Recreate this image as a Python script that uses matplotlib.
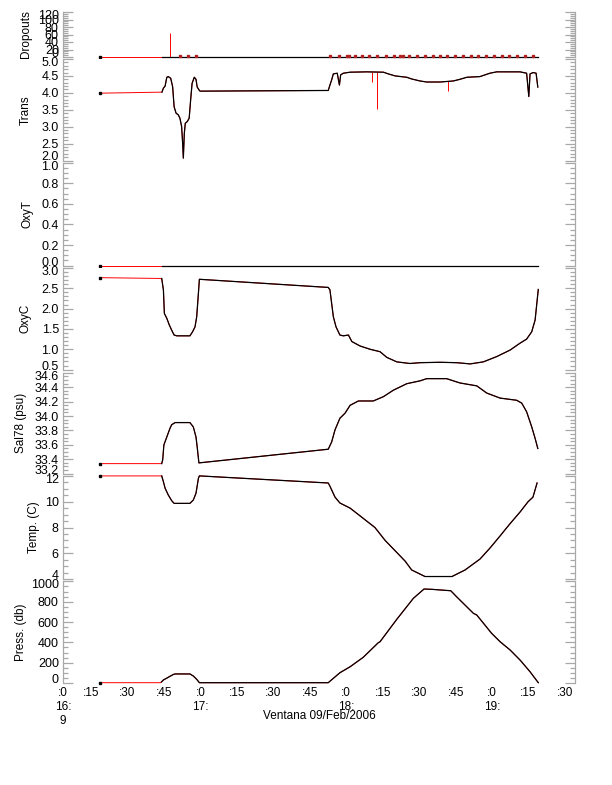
import numpy as np
import matplotlib
matplotlib.use("Agg")
import matplotlib.pyplot as plt
from matplotlib.ticker import FixedLocator, MultipleLocator
from matplotlib.transforms import ScaledTranslation

plt.rcParams['font.family'] = ['Liberation Sans', 'DejaVu Sans']
plt.rcParams['font.size'] = 8.5

# ---------------- data (time in minutes since 16:00) ----------------
drop_t = [18.7, 44.2, 59.9, 112.6, 199.0]
drop_v = [0, 0, 0, 0, 0]
drop_spike_t = [47.5]
drop_spike_v = [65]
drop_flag_t = [51.6, 55.0, 58.2, 113.3, 117.2, 120.2, 121.3, 123.6, 126.4, 129.5, 132.8,
               136.4, 139.7, 142.1, 143.2, 145.9, 149.0, 152.4, 155.6, 158.6, 161.3,
               164.7, 168.2, 171.2, 174.3, 177.5, 180.8, 183.9, 187.1, 190.1, 193.5, 196.7]

trans_t = [18.7, 44.2, 44.8, 45.5, 46.2, 46.8, 47.8, 48.6, 49.2, 50.0, 50.9, 51.6, 52.3,
           52.7, 53.0, 53.4, 53.8, 54.6, 55.4, 56.0, 56.6, 57.5, 58.2, 58.7, 59.6, 59.9,
           112.6, 113.3, 114.0, 114.7, 116.3, 117.2, 117.7, 118.8, 121.6, 128.4,
           135.3, 137.3, 140.1, 144.9, 146.9, 150.4, 153.1, 158.6,
           164.0, 166.8, 169.6, 175.0, 179.1, 181.9,
           191.5, 194.2, 195.1, 195.6, 196.9, 198.1, 198.8]
trans_v = [3.99, 4.02, 4.14, 4.20, 4.46, 4.48, 4.43, 4.18, 3.59, 3.40, 3.35, 3.25, 3.00,
           2.52, 2.07, 2.80, 3.10, 3.15, 3.25, 3.79, 4.28, 4.46, 4.40, 4.17, 4.07, 4.05,
           4.07, 4.23, 4.38, 4.56, 4.58, 4.23, 4.53, 4.58, 4.61, 4.62,
           4.61, 4.56, 4.50, 4.46, 4.41, 4.35, 4.32, 4.32,
           4.35, 4.40, 4.46, 4.48, 4.58, 4.62,
           4.62, 4.58, 3.89, 4.56, 4.60, 4.58, 4.17]
trans_spike_t = [130.7, 132.5, 162.0]
trans_spike_v = [4.33, 3.51, 4.04]

oxyt_t = [18.7, 44.2, 59.9, 112.6, 199.0]
oxyt_v = [0, 0, 0, 0, 0]

oxyc_t = [18.7, 44.1, 44.8, 45.2, 46.2, 47.2, 48.2, 49.2, 50.3, 55.7, 56.8, 57.8, 58.5, 59.2, 59.6,
          112.6, 113.3, 114.0, 114.7, 115.8, 117.4, 118.8, 120.9, 122.3, 125.7,
          129.8, 133.9, 136.7, 140.8, 146.2, 150.4, 158.6, 165.4, 171.0, 176.4,
          181.9, 187.4, 191.5, 194.2, 196.3, 197.7, 198.4, 199.0]
oxyc_v = [2.76, 2.74, 2.46, 1.88, 1.76, 1.60, 1.47, 1.35, 1.33, 1.33, 1.43, 1.55, 1.80, 2.38, 2.72,
          2.52, 2.46, 2.13, 1.80, 1.55, 1.35, 1.33, 1.35, 1.19, 1.08,
          1.00, 0.94, 0.80, 0.69, 0.65, 0.67, 0.68, 0.67, 0.64, 0.69,
          0.82, 0.98, 1.15, 1.25, 1.43, 1.72, 2.13, 2.47]

sal_t = [18.7, 44.1, 44.5, 45.0, 46.2, 47.5, 48.2, 49.6, 55.7, 57.1, 58.2, 58.7, 59.4,
         112.6, 114.0, 115.4, 117.4, 119.5, 121.6, 125.0, 131.1, 135.3, 139.4,
         144.9, 150.4, 153.1, 161.3, 166.8, 173.7, 177.8, 183.3, 190.1, 192.2,
         194.2, 196.3, 197.7, 198.8]
sal_v = [33.34, 33.34, 33.39, 33.60, 33.71, 33.83, 33.88, 33.91, 33.91, 33.85, 33.71, 33.57, 33.35,
         33.54, 33.64, 33.81, 33.97, 34.04, 34.15, 34.21, 34.21, 34.27, 34.36,
         34.45, 34.49, 34.52, 34.52, 34.46, 34.42, 34.32, 34.25, 34.22, 34.18,
         34.06, 33.85, 33.69, 33.55]

temp_t = [18.7, 44.1, 44.8, 45.5, 46.8, 48.2, 49.2, 55.7, 57.1, 58.2, 59.2, 59.6,
          112.6, 113.3, 115.4, 117.4, 121.6, 125.7, 131.8, 136.0, 140.1, 144.2,
          146.9, 152.4, 163.5, 168.9, 171.0, 175.0, 179.1, 183.3, 187.4, 191.5,
          194.8, 196.8, 198.5]
temp_v = [12.0, 12.0, 11.55, 11.04, 10.52, 10.08, 9.87, 9.87, 10.13, 10.65, 11.81, 12.0,
          11.45, 11.2, 10.35, 9.9, 9.5, 8.9, 8.0, 7.0, 6.2, 5.4,
          4.71, 4.2, 4.2, 4.71, 5.0, 5.55, 6.4, 7.35, 8.3, 9.2,
          10.0, 10.35, 11.45]

pres_t = [18.7, 43.6, 44.0, 44.8, 46.2, 47.5, 48.9, 49.6, 55.7, 57.1, 58.5, 59.6,
          112.6, 117.4, 121.6, 127.0, 133.2, 133.9, 140.8, 147.6, 152.0, 155.2,
          163.0, 165.4, 172.3, 173.7, 179.8, 183.3, 187.4, 191.5, 195.6, 199.0]
pres_v = [3, 3, 10, 30, 48, 66, 84, 89, 89, 69, 36, 3,
          3, 101, 160, 253, 397, 406, 627, 833, 925, 922,
          908, 849, 686, 669, 489, 406, 325, 226, 111, 3]

sample_segments = [(44.0, 60.0), (112.0, 200.0)]
first_sample_t = 18.7

x_ticks = [3.5, 15, 30, 45, 60, 75, 90, 105, 120, 135, 150, 165, 180, 195, 210]
x_labels = [':0\n16:\n9', ':15', ':30', ':45', ':0\n17:', ':15', ':30', ':45',
            ':0\n18:', ':15', ':30', ':45', ':0\n19:', ':15', ':30']
x_title = 'Ventana 09/Feb/2006'

panels = [
    dict(name='Dropouts', t=drop_t, v=drop_v, ylim=(0, 120), major=20, minor=5, lab_x=32),
    dict(name='Trans', t=trans_t, v=trans_v, ylim=(2.0, 5.0), major=0.5, minor=0.1, lab_x=32, fmt='%.1f'),
    dict(name='OxyT', t=oxyt_t, v=oxyt_v, ylim=(0.0, 1.0), major=0.2, minor=0.05, lab_x=33, fmt='%.1f'),
    dict(name='OxyC', t=oxyc_t, v=oxyc_v, ylim=(0.5, 3.0), major=0.5, minor=0.1, lab_x=32, fmt='%.1f'),
    dict(name='Sal78 (psu)', t=sal_t, v=sal_v, ylim=(33.2, 34.6), major=0.2, minor=0.05, lab_x=27, fmt='%.1f'),
    dict(name='Temp. (C)', t=temp_t, v=temp_v, ylim=(4, 12), major=2, minor=0.5, lab_x=40),
    dict(name='Press. (db)', t=pres_t, v=pres_v, ylim=(0, 1000), major=200, minor=50, lab_x=27),
]

# layout in pixels (top, bottom)
W, H = 612, 785
px_boxes = [(12, 57), (59, 160.5), (162.7, 265.6), (267.9, 369.6),
            (372.9, 473.7), (475.9, 579.1), (581.4, 683)]
left_px, right_px = 63, 575

fig = plt.figure(figsize=(W / 100, H / 100), dpi=100)
grey = '#a8a8a8'
axes = []
for i, (p, (top, bot)) in enumerate(zip(panels, px_boxes)):
    ax = fig.add_axes([left_px / W, 1 - bot / H, (right_px - left_px) / W, (bot - top) / H],
                      sharex=axes[0] if axes else None)
    axes.append(ax)
    t = np.array(p['t'], float)
    v = np.array(p['v'], float)
    ax.plot(t, v, color='red', lw=0.7, clip_on=False, zorder=2)
    mask = np.zeros_like(t, dtype=bool)
    for a, b in sample_segments:
        mask |= (t >= a) & (t <= b)
    vb = np.where(mask, v, np.nan)
    ax.plot(t, vb, color='black', lw=0.9, clip_on=False, zorder=3)
    ax.plot([first_sample_t], [v[0]], 's', color='black', ms=1.8, clip_on=False, zorder=4)

    ax.set_ylim(*p['ylim'])
    ax.set_xlim(3.5, 214.1)
    lo, hi = p['ylim']
    nmaj = int(round((hi - lo) / p['major']))
    majors = [lo + k * p['major'] for k in range(nmaj + 1)]
    ax.yaxis.set_major_locator(FixedLocator(majors))
    ax.yaxis.set_minor_locator(MultipleLocator(p['minor']))
    if 'fmt' in p:
        ax.set_yticklabels([p['fmt'] % m for m in majors])
    else:
        ax.set_yticklabels(['%d' % round(m) for m in majors])

    for s in ['top', 'bottom']:
        ax.spines[s].set_visible(False)
    for s in ['left', 'right']:
        ax.spines[s].set_color(grey)
        ax.spines[s].set_linewidth(0.9)
    ax.tick_params(axis='y', which='both', direction='in', left=True, right=True,
                   color=grey, width=0.9, labelsize=9, pad=3)
    ax.tick_params(axis='y', which='major', length=7)
    ax.tick_params(axis='y', which='minor', length=3.5)
    ax.tick_params(axis='x', which='both', length=0, labelsize=8.5, pad=3)

    ax.set_ylabel(p['name'], fontsize=8.5)
    ax.yaxis.set_label_coords((p['lab_x'] - left_px) / (right_px - left_px), 0.5)

    labs = ax.get_yticklabels()
    labs[0].set_transform(labs[0].get_transform() + ScaledTranslation(0, 4.5 / 100, fig.dpi_scale_trans))
    labs[-1].set_transform(labs[-1].get_transform() + ScaledTranslation(0, -2.5 / 100, fig.dpi_scale_trans))

    if i < len(panels) - 1:
        ax.tick_params(axis='x', labelbottom=False)

# red-only spikes
axes[0].vlines(drop_spike_t, 0, drop_spike_v, color='red', lw=0.7, zorder=2)
axes[0].plot(drop_flag_t, [1.5] * len(drop_flag_t), 's', color='#b02020', ms=1.6, zorder=4, clip_on=False)
base = np.interp(trans_spike_t, trans_t, trans_v)
axes[1].vlines(trans_spike_t, trans_spike_v, base, color='red', lw=0.7, zorder=2)

axb = axes[-1]
axb.xaxis.set_major_locator(FixedLocator(x_ticks))
axb.set_xticklabels(x_labels)
for lbl in axb.get_xticklabels():
    lbl.set_linespacing(1.2)
axb.set_xlabel(x_title, fontsize=8.5)
axb.xaxis.set_label_coords(0.5, -(710 - 683) / (683 - 581.4))
axb.xaxis.label.set_va('top')

fig.savefig('out.png', dpi=100)
